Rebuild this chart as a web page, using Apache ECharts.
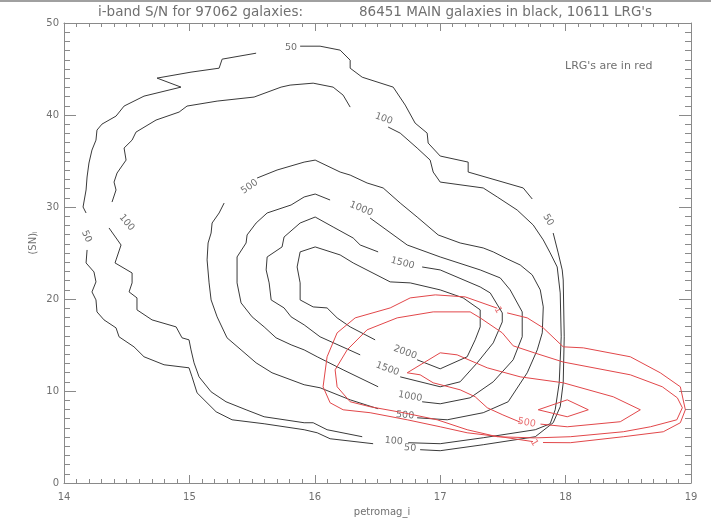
<!DOCTYPE html>
<html><head><meta charset="utf-8">
<script src="https://cdn.jsdelivr.net/npm/echarts@6/dist/echarts.min.js"></script>
<style>html,body{margin:0;padding:0;background:#fff}#c{width:711px;height:528px}</style>
</head><body><div id="c"></div>
<script>
// ---- data (petromag_i, (SN)_i) ----
const xTicks = [14, 15, 16, 17, 18, 19];
const yTicks = [0, 10, 20, 30, 40, 50];
const titleA = "i-band S/N for 97062 galaxies:";
const titleB = "86451 MAIN galaxies in black, 10611 LRG's";
const noteText = "LRG's are in red";

// MAIN galaxies (black) contour segments
const main50 = [
  [[15.883,47.48],[16.042,47.48],[16.202,47.05],[16.282,45.96],[16.282,45.09],[16.378,44.11],[16.625,43.03],[16.721,41.08],[16.800,39.12],[16.896,38.03],[16.904,36.95],[17.000,35.54],[17.223,34.88],[17.223,33.80],[17.662,32.07],[17.734,30.87]],
  [[17.901,27.17],[17.941,25.01],[17.973,23.16],[17.981,22.07],[17.989,15.89],[17.981,10.89],[17.957,8.29],[17.901,6.55],[17.758,5.03],[17.343,4.16],[17.000,3.51],[16.840,3.62]],
  [[16.465,4.27],[16.122,4.81],[16.019,5.46],[15.915,5.79],[15.596,6.44],[15.340,6.87],[15.213,7.74],[15.061,9.80],[15.021,11.54],[14.997,12.52],[14.798,12.85],[14.638,13.72],[14.558,14.80],[14.439,15.89],[14.415,16.86],[14.319,17.73],[14.263,18.60],[14.255,19.90],[14.223,20.77],[14.255,21.86],[14.239,22.94],[14.176,23.92],[14.184,25.33]],
  [[14.176,29.35],[14.152,30.00],[14.176,31.85],[14.184,33.26],[14.199,34.78],[14.223,36.19],[14.255,37.27],[14.263,38.36],[14.303,39.01],[14.415,39.88],[14.479,40.97],[14.638,42.05],[14.933,43.03],[14.742,44.01],[15.013,44.66],[15.237,45.09],[15.261,46.07],[15.532,46.72]]
];
const main100 = [
  [[16.282,40.86],[16.226,42.16],[16.146,43.03],[15.987,43.46],[15.803,43.25],[15.731,43.03],[15.516,41.95],[15.221,41.51],[14.981,40.97],[14.918,40.32],[14.734,39.45],[14.574,38.14],[14.543,37.27],[14.479,36.41],[14.495,35.10],[14.423,33.69],[14.399,32.71],[14.415,31.85],[14.383,30.54]],
  [[14.359,27.72],[14.455,25.87],[14.415,24.25],[14.407,23.92],[14.543,22.83],[14.543,21.75],[14.519,20.77],[14.582,20.12],[14.582,18.82],[14.702,17.73],[14.894,16.97],[14.941,15.78],[14.997,15.56],[15.013,14.47],[15.037,13.06],[15.077,11.54],[15.173,9.91],[15.292,8.83],[15.452,7.96],[15.596,7.20],[15.915,6.55],[15.987,6.55],[16.098,5.79],[16.378,5.03]],
  [[16.745,4.38],[17.000,4.27],[17.343,4.92],[17.758,5.79],[17.877,6.44],[17.917,7.96],[17.949,10.89],[17.965,15.89],[17.957,20.66],[17.933,23.48],[17.877,25.01],[17.822,26.42],[17.742,28.04],[17.614,29.67],[17.455,31.09],[17.343,32.07],[17.000,32.71],[16.944,33.80],[16.920,35.10],[16.816,36.41],[16.681,38.03],[16.585,38.69]]
];
const main500 = [
  [[15.277,30.43],[15.237,29.35],[15.181,28.26],[15.173,27.17],[15.149,26.09],[15.141,24.25],[15.157,21.75],[15.173,19.90],[15.221,18.06],[15.300,15.78],[15.412,14.47],[15.532,13.06],[15.659,11.98],[15.915,10.68],[16.042,10.35],[16.282,9.04],[16.505,8.07]],
  [[16.816,7.09],[17.056,6.87],[17.343,7.64],[17.542,8.83],[17.694,11.98],[17.774,14.47],[17.814,16.32],[17.822,19.14],[17.798,20.99],[17.734,22.62],[17.638,23.70],[17.534,24.36],[17.423,25.12],[17.343,25.55],[17.159,26.09],[16.984,26.96],[16.816,28.91],[16.681,30.43],[16.545,32.07],[16.417,32.61],[16.282,33.47],[16.202,33.80],[16.003,35.10],[15.915,34.88],[15.699,34.02],[15.540,33.15]]
];
const main1000 = [
  [[16.122,30.76],[16.003,31.41],[15.915,31.09],[15.811,30.22],[15.620,29.35],[15.532,28.26],[15.460,26.96],[15.452,26.09],[15.380,24.57],[15.380,21.75],[15.412,19.58],[15.500,18.06],[15.596,16.97],[15.691,15.78],[15.811,15.02],[15.915,14.47],[16.019,13.72],[16.226,12.30],[16.505,10.46]],
  [[16.856,8.83],[17.000,8.61],[17.239,9.26],[17.423,11.00],[17.582,13.39],[17.654,15.89],[17.654,18.60],[17.558,20.99],[17.479,22.29],[17.319,23.16],[17.000,24.57],[16.737,25.87],[16.441,28.80]]
];
const main1500 = [
  [[16.505,25.12],[16.362,25.87],[16.306,26.63],[16.146,27.83],[16.003,28.91],[15.883,28.26],[15.755,26.74],[15.739,25.66],[15.620,24.57],[15.612,23.16],[15.636,21.75],[15.652,19.90],[15.755,19.03],[15.811,18.06],[15.915,17.19],[16.042,15.89],[16.362,13.93]],
  [[16.681,11.54],[17.000,10.46],[17.159,11.00],[17.295,13.06],[17.423,15.23],[17.495,17.51],[17.495,18.49],[17.399,20.66],[17.319,21.31],[17.000,23.16],[16.856,23.48]]
];
const main2000 = [
  [[16.481,15.56],[16.282,16.97],[16.178,17.95],[16.098,19.03],[15.987,19.14],[15.883,19.90],[15.883,21.75],[15.859,23.48],[15.883,25.12],[16.003,25.66],[16.202,24.79],[16.306,23.92],[16.601,21.86],[16.761,21.75],[17.000,20.99],[17.183,20.12],[17.319,18.82],[17.319,16.97],[17.279,15.56],[17.215,13.72],[17.000,12.41],[16.816,13.39]]
];

// LRGs (red) contour segments
const lrgOuter = [
  [[17.455,19.00],[17.199,20.23],[16.961,20.45],[16.761,20.12],[16.601,19.03],[16.322,17.95],[16.178,16.32],[16.098,13.72],[16.066,10.46],[16.122,8.72],[16.226,7.96],[16.441,7.64],[16.737,6.87],[17.000,6.11],[17.215,5.46],[17.479,5.03],[17.740,4.50]],
  [[17.820,4.40],[18.037,4.38],[18.460,5.03],[18.779,5.57],[18.915,6.55],[18.955,7.96],[18.915,10.46],[18.755,11.98],[18.516,13.72],[18.141,14.69],[17.981,14.80],[17.822,16.86],[17.694,17.95],[17.534,18.49]]
];
const lrgSecond = [
  [[17.319,17.95],[17.239,18.60],[16.944,18.60],[16.657,17.95],[16.417,16.65],[16.258,14.47],[16.162,12.30],[16.178,10.46],[16.282,8.83],[16.441,8.29],[16.705,7.64],[16.976,6.87],[17.215,5.79],[17.455,5.03],[17.750,4.90],[18.037,5.03],[18.460,5.57],[18.676,6.11],[18.887,6.87],[18.931,8.18],[18.891,9.26],[18.771,10.46],[18.516,11.76],[17.981,13.15],[17.750,14.15],[17.582,14.91],[17.495,16.32],[17.319,17.95]]
];
const lrg500 = [
  [[17.640,6.60],[17.500,7.40],[17.375,8.18],[17.279,9.37],[17.159,10.13],[16.944,10.89],[16.840,11.76],[16.737,11.98],[17.000,14.15],[17.135,13.93],[17.375,12.52],[17.638,11.54],[17.981,10.89],[18.380,9.37],[18.596,7.96],[18.436,6.66],[18.013,6.11],[17.800,6.40]]
];
const lrg1000 = [
  [[17.782,7.96],[18.013,9.04],[18.181,7.96],[18.013,7.20],[17.782,7.96]]
];

// contour label positions: [x, y, text, angle]
const mainLabels = [
  [15.81,47.3,"50",0],[16.55,39.6,"100",-20],[17.86,28.6,"50",-60],[14.50,28.3,"100",-50],[14.18,26.8,"50",-65],
  [15.48,32.2,"500",35],[16.37,29.8,"1000",-22],[16.70,23.9,"1500",-15],[16.72,14.2,"2000",-20],[16.58,12.4,"1500",-20],
  [16.76,9.4,"1000",-10],[16.72,7.35,"500",-5],[16.63,4.55,"100",-5],[16.76,3.8,"50",-5]
];
const lrgLabels = [[17.46,18.8,"1",-60],[17.75,4.35,"1",-60],[17.69,6.55,"500",-10]];

// ---- build ----
const chart = echarts.init(document.getElementById('c'), null, {renderer: 'canvas'});
const BLACK = '#3a3a3a', RED = '#e2474a', GREY = '#8a8a8a', TXT = '#707070';
const FONT = 'DejaVu Sans';
const series = [];
function addSegs(segs, color) {
  segs.forEach(s => series.push({type: 'line', data: s, showSymbol: false, symbol: 'none', smooth: false,
    lineStyle: {color: color, width: 1}, silent: true, animation: false, xAxisIndex: 0, yAxisIndex: 0}));
}
[main50, main100, main500, main1000, main1500, main2000].forEach(s => addSegs(s, BLACK));
[lrgOuter, lrgSecond, lrg500, lrg1000].forEach(s => addSegs(s, RED));
function addLabels(list, color) {
  series.push({type: 'scatter', symbolSize: 0, silent: true, animation: false,
    data: list.map(l => ({value: [l[0], l[1]], label: {show: true, position: 'inside', formatter: l[2], rotate: l[3],
      color: color, fontSize: 9.5, fontFamily: FONT}}))});
}
addLabels(mainLabels, '#4a4a4a');
addLabels(lrgLabels, RED);

function xAx(pos, labels) {
  return {type: 'value', position: pos, min: 14, max: 19, interval: 1,
    axisLine: {show: true, onZero: false, lineStyle: {color: GREY, width: 1}},
    axisTick: {show: true, inside: true, length: 8, lineStyle: {color: GREY}},
    minorTick: {show: true, splitNumber: 10, length: 4, lineStyle: {color: GREY}},
    splitLine: {show: false},
    axisLabel: {show: labels, color: TXT, fontSize: 10, fontFamily: FONT, margin: 9}};
}
function yAx(pos, labels) {
  return {type: 'value', position: pos, min: 0, max: 50, interval: 10,
    axisLine: {show: true, onZero: false, lineStyle: {color: GREY, width: 1}},
    axisTick: {show: true, inside: true, length: 12, lineStyle: {color: GREY}},
    minorTick: {show: true, splitNumber: 10, length: 6, lineStyle: {color: GREY}},
    splitLine: {show: false},
    axisLabel: {show: labels, color: TXT, fontSize: 10, fontFamily: FONT, margin: 5}};
}

chart.setOption({
  animation: false,
  backgroundColor: '#fff',
  grid: {left: 64, right: 20, top: 23, bottom: 45},
  xAxis: [xAx('bottom', true), xAx('top', false)],
  yAxis: [yAx('left', true), yAx('right', false)],
  graphic: [
    {type: 'rect', shape: {x: 0, y: 0, width: 711, height: 2}, style: {fill: '#a0a0a0'}},
    {type: 'text', x: 98, y: 12, style: {text: titleA, fill: TXT, font: '13.5px "DejaVu Sans"', verticalAlign: 'middle'}},
    {type: 'text', x: 359, y: 12, style: {text: titleB, fill: TXT, font: '13.5px "DejaVu Sans"', verticalAlign: 'middle'}},
    {type: 'text', x: 565, y: 66, style: {text: noteText, fill: TXT, font: '11px "DejaVu Sans"', verticalAlign: 'middle'}},
    {type: 'text', x: 382, y: 512, style: {text: 'petromag_i', fill: TXT, font: '10px "DejaVu Sans"', align: 'center', verticalAlign: 'middle'}},
    {type: 'text', x: 33, y: 243, rotation: Math.PI / 2,
      style: {text: '(SN){s|i}', fill: TXT, font: '10px "DejaVu Sans"', align: 'center', verticalAlign: 'middle',
        rich: {s: {fontSize: 7, fill: TXT, padding: [5, 0, 0, 0]}}}}
  ],
  series: series
});
</script></body></html>
